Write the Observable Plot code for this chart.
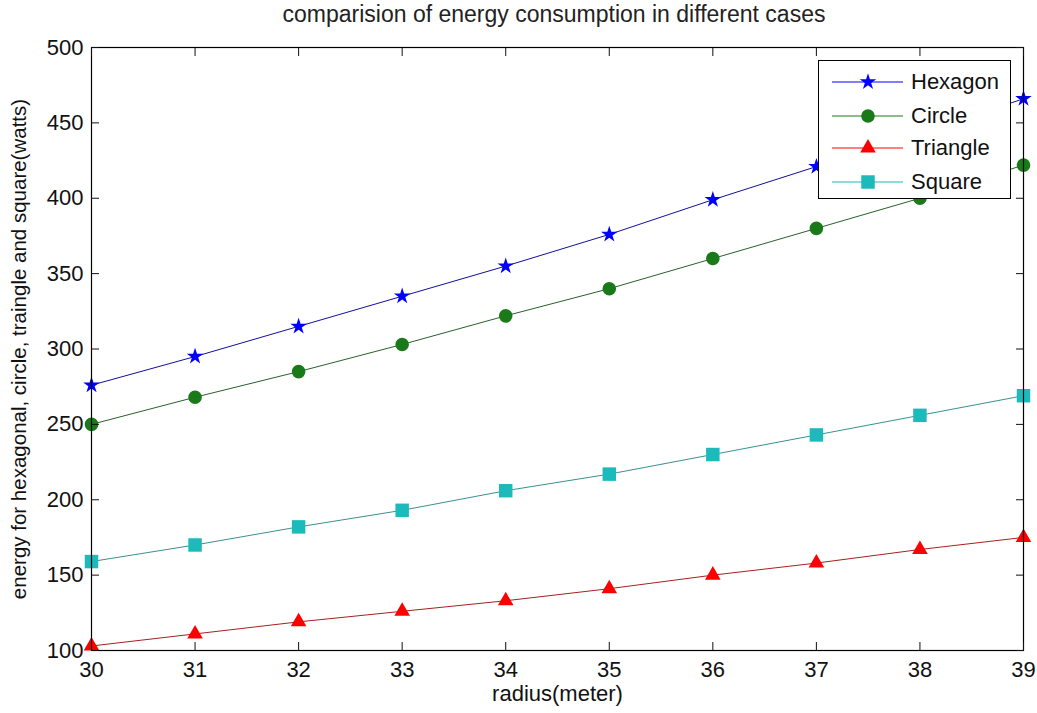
<!DOCTYPE html>
<html><head><meta charset="utf-8">
<script src="https://cdn.jsdelivr.net/npm/d3@7"></script>
<script src="https://cdn.jsdelivr.net/npm/@observablehq/plot@0.6"></script>
<style>
body{margin:0;background:#fff;font-family:"Liberation Sans",Arial,sans-serif;}
#wrap{position:relative;width:1037px;height:713px;overflow:hidden;}
#title{position:absolute;top:1px;left:91px;width:926px;text-align:center;font-size:23px;color:#222;white-space:nowrap;}
#chart{position:absolute;top:30px;left:0;}
#ylabel{position:absolute;left:-381px;top:337px;width:800px;height:24px;line-height:24px;text-align:center;font-size:20.5px;color:#111;transform:rotate(-90deg);transform-origin:400px 12px;white-space:nowrap;}
#legend{position:absolute;left:818px;top:60px;width:191px;height:137px;border:1px solid #000;background:#fff;}
.row{position:absolute;left:0;height:30px;display:flex;align-items:center;}
.row span{font-size:22px;color:#111;margin-left:0px;}
</style></head>
<body><div id="wrap"><div id="title">comparision of energy consumption in different cases</div><div id="chart"></div><div id="ylabel"></div><div id="legend"></div></div>
<script>
const radius   = [30, 31, 32, 33, 34, 35, 36, 37, 38, 39];
const hexagon  = [276, 295, 315, 335, 355, 376, 399, 421, 443, 466];
const circle   = [250, 268, 285, 303, 322, 340, 360, 380, 400, 422];
const triangle = [103, 111, 119, 126, 133, 141, 150, 158, 167, 175];
const square   = [159, 170, 182, 193, 206, 217, 230, 243, 256, 269];
const yTicks   = [100, 150, 200, 250, 300, 350, 400, 450, 500];
const seriesNames = ["Hexagon", "Circle", "Triangle", "Square"];
const xLabel = "radius(meter)";
const yLabel = "energy for hexagonal, circle, traingle and square(watts)";

const series = [
  {name: "Hexagon",  values: hexagon,  symbol: "star",     r: 5.2, fill: "#0000ff", line: "#10109a"},
  {name: "Circle",   values: circle,   symbol: "circle",   r: 6.8, fill: "#1a7a1a", line: "#2a602a"},
  {name: "Triangle", values: triangle, symbol: "triangle", r: 5.8, fill: "#ff0000", line: "#a82020"},
  {name: "Square",   values: square,   symbol: "square",   r: 7.6, fill: "#1cbaba", line: "#3a9090"}
];
const rows = s => radius.map((x, i) => ({radius: x, value: s.values[i], series: s.name}));

const marks = [];
for (const s of series) {
  marks.push(Plot.line(rows(s), {x: "radius", y: "value", stroke: s.line, strokeWidth: 1}));
}
for (const s of series) {
  marks.push(Plot.dot(rows(s), {x: "radius", y: "value", symbol: () => s.symbol, r: s.r, fill: s.fill, stroke: "none"}));
}

const chart = Plot.plot({
  width: 1037,
  height: 683,
  marginLeft: 91,
  marginRight: 14,
  marginTop: 17,
  marginBottom: 63,
  style: {fontFamily: "'Liberation Sans', Arial, sans-serif", fontSize: "22px", color: "#111", background: "white"},
  x: {domain: [30, 39]},
  y: {domain: [100, 500]},
  marks: [
    ...marks,
    Plot.frame({stroke: "black", strokeWidth: 1.2}),
    Plot.axisX({anchor: "bottom", ticks: radius, tickSize: -8, tickPadding: 19, tickFormat: d => String(d),
      label: xLabel, labelAnchor: "center", labelOffset: 50, labelArrow: "none"}),
    Plot.axisX({anchor: "top", ticks: radius, tickSize: -8, tickFormat: () => "", label: null}),
    Plot.axisY({anchor: "left", ticks: yTicks, tickSize: -8, tickPadding: 16, tickFormat: d => String(d), label: null}),
    Plot.axisY({anchor: "right", ticks: yTicks, tickSize: -8, tickFormat: () => "", label: null})
  ]
});
document.getElementById("chart").appendChild(chart);
document.getElementById("ylabel").textContent = yLabel;

// legend
const legend = document.getElementById("legend");
const rowTops = [6, 40, 72, 106];
series.forEach((s, i) => {
  const row = document.createElement("div");
  row.className = "row";
  row.style.top = rowTops[i] + "px";
  const svg = d3.create("svg").attr("width", 92).attr("height", 30);
  svg.append("line").attr("x1", 13).attr("x2", 84).attr("y1", 15).attr("y2", 15).attr("stroke", s.fill).attr("stroke-width", 1);
  const sym = {star: d3.symbolStar, circle: d3.symbolCircle, triangle: d3.symbolTriangle, square: d3.symbolSquare}[s.symbol];
  svg.append("path").attr("transform", "translate(49,15)").attr("d", d3.symbol(sym, Math.PI * s.r * s.r)()).attr("fill", s.fill);
  row.appendChild(svg.node());
  const t = document.createElement("span");
  t.textContent = seriesNames[i];
  row.appendChild(t);
  legend.appendChild(row);
});
</script></body></html>
